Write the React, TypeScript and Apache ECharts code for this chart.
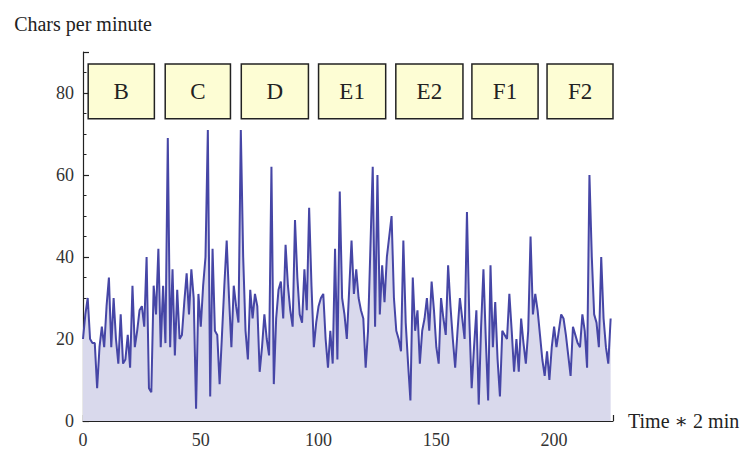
import React, { useEffect, useRef } from "react";
import * as echarts from "echarts";

// Chars per minute, one value per 2-minute step (index = time step)
const charsPerMinute: number[] = [
  20, 26, 30, 20, 19, 19, 8, 18, 23, 18,
  28, 35, 18, 30, 20, 14, 26, 14, 15, 21,
  13, 33, 18, 22, 27, 28, 23, 40, 8, 7,
  33, 26, 42, 18, 33, 19, 69, 18, 37, 16,
  32, 20, 21, 29, 36, 26, 37, 30, 3, 31,
  23, 33, 40, 71, 6, 42, 22, 21, 9, 21,
  33, 44, 30, 18, 33, 28, 24, 71, 40, 22,
  15, 32, 25, 31, 28, 12, 18, 26, 20, 16,
  62, 9, 25, 32, 34, 25, 43, 33, 27, 23,
  49, 35, 26, 24, 37, 27, 52, 33, 18, 24,
  28, 30, 31, 20, 13, 22, 14, 42, 15, 56,
  30, 26, 20, 32, 44, 31, 37, 30, 27, 25,
  13, 22, 42, 62, 23, 60, 26, 38, 29, 40,
  45, 50, 30, 22, 20, 17, 44, 24, 14, 5,
  35, 22, 27, 14, 22, 25, 30, 22, 34, 27,
  18, 14, 30, 25, 21, 38, 28, 20, 13, 22,
  30, 25, 20, 51, 25, 8, 18, 27, 4, 23,
  37, 20, 5, 38, 18, 29, 15, 6, 22, 21,
  20, 31, 22, 12, 20, 12, 25, 19, 14, 22,
  45, 26, 31, 27, 21, 15, 11, 17, 10, 18,
  23, 18, 22, 26, 25, 21, 16, 11, 23, 21,
  19, 18, 26, 22, 13, 60, 40, 26, 24, 18,
  40, 25, 18, 14, 25,
];

// Task segments shown as labelled boxes (time-step ranges)
const segmentLabels: string[] = ["B", "C", "D", "E1", "E2", "F1", "F2"];
const segmentStarts: number[] = [2.2, 34.9, 67.2, 100, 132.8, 165.1, 197];
const segmentEnds: number[] = [30.3, 62.6, 95.7, 128.5, 161.3, 193.2, 225.5];
const segmentLow = 73.7;
const segmentHigh = 87.1;

const xTicks = { min: 0, max: 225, interval: 50 };
const yTicks = { min: 0, max: 90, interval: 20 };

const FONT = "'Liberation Serif', 'DejaVu Serif', serif";

export default function App() {
  const ref = useRef<HTMLDivElement>(null);

  useEffect(() => {
    document.body.style.margin = "0";
    if (!ref.current) return;
    const chart = echarts.init(ref.current, undefined, { renderer: "svg" });

    const seriesData = charsPerMinute.map((v, i) => [i, v]);
    const areas = segmentLabels.map((name, k) => [
      { name, xAxis: segmentStarts[k], yAxis: segmentLow },
      { xAxis: segmentEnds[k], yAxis: segmentHigh },
    ]);

    chart.setOption({
      animation: false,
      backgroundColor: "#ffffff",
      grid: { left: 83, right: 134, top: 52, bottom: 30, containLabel: false },
      xAxis: {
        type: "value",
        min: xTicks.min,
        max: xTicks.max,
        interval: xTicks.interval,
        name: "Time ∗ 2 min",
        nameLocation: "end",
        nameGap: 15,
        nameTextStyle: { fontFamily: FONT, fontSize: 20, color: "#222", verticalAlign: "middle" },
        axisLine: { show: true, lineStyle: { color: "#222", width: 1.2 } },
        axisTick: { show: true, inside: true, length: 6, lineStyle: { color: "#222", width: 1.2 } },
        minorTick: { show: true, splitNumber: 5, length: 3.5, lineStyle: { color: "#222", width: 1 } },
        axisLabel: { fontFamily: FONT, fontSize: 18, color: "#333", margin: 10, showMaxLabel: false },
        splitLine: { show: false },
      },
      yAxis: {
        type: "value",
        min: yTicks.min,
        max: yTicks.max,
        interval: yTicks.interval,
        name: "Chars per minute",
        nameLocation: "end",
        nameGap: 18,
        nameTextStyle: { fontFamily: FONT, fontSize: 20, color: "#222", align: "center" },
        axisLine: { show: true, lineStyle: { color: "#222", width: 1.2 } },
        axisTick: { show: true, inside: true, length: 6, lineStyle: { color: "#222", width: 1.2 } },
        minorTick: { show: true, splitNumber: 4, length: 3.5, lineStyle: { color: "#222", width: 1 } },
        axisLabel: { fontFamily: FONT, fontSize: 18, color: "#333", margin: 9, showMaxLabel: false },
        splitLine: { show: false },
      },
      series: [
        {
          type: "line",
          data: seriesData,
          showSymbol: false,
          smooth: false,
          lineStyle: { color: "#4646a6", width: 2 },
          itemStyle: { color: "#4646a6" },
          areaStyle: { color: "#d9d9ec", opacity: 1 },
          markArea: {
            silent: true,
            itemStyle: { color: "#fdfdd4", borderColor: "#222", borderWidth: 1.5 },
            label: {
              show: true,
              position: "inside",
              fontFamily: FONT,
              fontSize: 23,
              color: "#222",
            },
            data: areas,
          },
        },
      ],
    });

    return () => chart.dispose();
  }, []);

  return <div ref={ref} style={{ width: 747, height: 451 }} />;
}
